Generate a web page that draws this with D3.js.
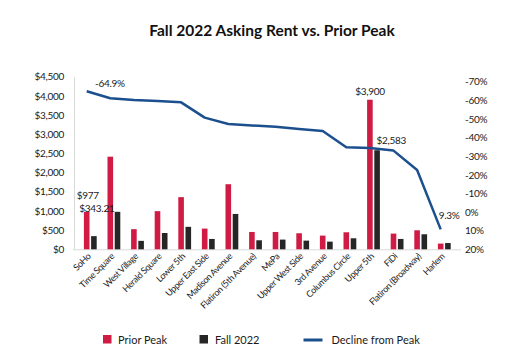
<!DOCTYPE html>
<html>
<head>
<meta charset="utf-8">
<script src="https://cdn.jsdelivr.net/npm/d3@7"></script>
<style>
  html, body { margin: 0; padding: 0; background: #fff; }
  svg { display: block; font-family: Lato, "Open Sans", sans-serif; }
</style>
</head>
<body>
<svg id="chart" width="518" height="360"></svg>
<script>
const categories = ["SoHo", "Time Square", "West Village", "Herald Square", "Lower 5th",
  "Upper East Side", "Madison Avenue", "Flatiron (5th Avenue)", "MePa", "Upper West Side",
  "3rd Avenue", "Columbus Circle", "Upper 5th", "FiDi", "Flatiron (Broadway)", "Harlem"];
const priorPeak = [977, 2415, 525, 995, 1360, 540, 1697, 452, 452, 418, 357, 444, 3900, 410, 496, 149];
const fall2022 = [343.21, 977, 220, 425, 586, 270, 922, 235, 253, 226, 200, 287, 2583, 270, 392, 163];
const declineFromPeak = [-64.9, -61.1, -60.2, -59.6, -58.9, -50.7, -47.3, -46.5, -45.8, -44.6, -43.5, -34.8, -34.4, -33.0, -22.6, 9.3];
const leftTicks = [0, 500, 1000, 1500, 2000, 2500, 3000, 3500, 4000, 4500];
const rightTicks = [20, 10, 0, -10, -20, -30, -40, -50, -60, -70];
const seriesNames = ["Prior Peak", "Fall 2022", "Decline from Peak"];
const title = "Fall 2022 Asking Rent vs. Prior Peak";

const colors = { peak: "#D01C44", fall: "#262626", line: "#1B4F8E", axis: "#D9D9D9", text: "#1a1a1a" };

const svg = d3.select("#chart");

const x = d3.scaleBand().domain(categories).range([78.5, 456.1]).paddingInner(0).paddingOuter(0);
const yL = d3.scaleLinear().domain([0, 4500]).range([249.3, 76.7]);
const yR = d3.scaleLinear().domain([20, -70]).range([249.3, 81.7]);
const barW = 5.6, gap = 7.2;
const redX = c => x(c) + x.bandwidth() / 2 - gap / 2;
const blackX = c => x(c) + x.bandwidth() / 2 + gap / 2;

// Title
svg.append("text").attr("x", 272).attr("y", 36).attr("text-anchor", "middle")
  .attr("font-size", 15.5).attr("font-weight", "bold").attr("fill", "#111")
  .text(title);

// Left axis
const gL = svg.append("g").attr("transform", "translate(74,0)")
  .call(d3.axisLeft(yL).tickValues(leftTicks).tickSize(0).tickPadding(10)
    .tickFormat(d => "$" + d3.format(",")(d)));
gL.select(".domain").attr("stroke", colors.axis);
gL.selectAll("text").attr("font-size", 10).attr("font-family", "Lato").attr("fill", colors.text)
  .attr("letter-spacing", "-0.3px");

// Right axis
const gR = svg.append("g").attr("transform", "translate(461,0)")
  .call(d3.axisRight(yR).tickValues(rightTicks).tickSize(0).tickPadding(4)
    .tickFormat(d => d + "%"));
gR.select(".domain").remove();
gR.selectAll("text").attr("font-size", 10).attr("font-family", "Lato").attr("fill", colors.text)
  .attr("letter-spacing", "-0.3px");

// Baseline
svg.append("line").attr("x1", 73).attr("x2", 461).attr("y1", yL(0) + 0.5).attr("y2", yL(0) + 0.5)
  .attr("stroke", colors.axis).attr("stroke-width", 1);

// Bars
svg.append("g").selectAll("rect").data(categories).join("rect")
  .attr("x", c => redX(c) - barW / 2).attr("width", barW)
  .attr("y", (c, i) => yL(priorPeak[i])).attr("height", (c, i) => yL(0) - yL(priorPeak[i]))
  .attr("fill", colors.peak);
svg.append("g").selectAll("rect").data(categories).join("rect")
  .attr("x", c => blackX(c) - barW / 2).attr("width", barW)
  .attr("y", (c, i) => yL(fall2022[i])).attr("height", (c, i) => yL(0) - yL(fall2022[i]))
  .attr("fill", colors.fall);

// Line
const line = d3.line().x(d => redX(d[0])).y(d => yR(d[1]));
svg.append("path").datum(categories.map((c, i) => [c, declineFromPeak[i]]))
  .attr("d", line).attr("fill", "none").attr("stroke", colors.line).attr("stroke-width", 2.5)
  .attr("stroke-linejoin", "round");

// Category labels
svg.append("g").selectAll("text").data(categories).join("text")
  .attr("transform", c => `translate(${x(c) + x.bandwidth() / 2 + 1},${257}) rotate(-45)`)
  .attr("text-anchor", "end").attr("font-size", 9).attr("letter-spacing", "-0.4px")
  .attr("fill", colors.text).text(c => c);

// Data labels
const fmt0 = d3.format("$,");
const lbl = (txt, xx, yy, anchor) => svg.append("text").attr("x", xx).attr("y", yy)
  .attr("text-anchor", anchor).attr("font-size", 10).attr("fill", colors.text)
  .attr("letter-spacing", "-0.3px").text(txt);
const i0 = 0, i12 = 12, i15 = 15;
lbl(fmt0(priorPeak[i0]), redX(categories[i0]) + 1, yL(priorPeak[i0]) - 12.5, "middle");
lbl("$" + fall2022[i0].toFixed(2), blackX(categories[i0]) + 3, yL(fall2022[i0]) - 24, "middle");
lbl(fmt0(priorPeak[i12]), redX(categories[i12]), yL(priorPeak[i12]) - 5, "middle");
lbl(fmt0(fall2022[i12]), blackX(categories[i12]) - 0.5, yL(fall2022[i12]) - 6.5, "start");
lbl(declineFromPeak[i0] + "%", 95, yR(declineFromPeak[i0]) - 4, "start");
lbl(declineFromPeak[i15] + "%", redX(categories[i15]) - 2, yR(declineFromPeak[i15]) - 10, "start");

// Legend
const lg = svg.append("g").attr("font-size", 11).attr("fill", colors.text);
lg.append("rect").attr("x", 103).attr("y", 335).attr("width", 8.5).attr("height", 8.5).attr("fill", colors.peak);
lg.append("text").attr("x", 118).attr("y", 344).text(seriesNames[0]);
lg.append("rect").attr("x", 199.5).attr("y", 335).attr("width", 8.5).attr("height", 8.5).attr("fill", colors.fall);
lg.append("text").attr("x", 215).attr("y", 344).text(seriesNames[1]);
lg.append("line").attr("x1", 303.5).attr("x2", 322.5).attr("y1", 340).attr("y2", 340)
  .attr("stroke", colors.line).attr("stroke-width", 3);
lg.append("text").attr("x", 331.5).attr("y", 344).text(seriesNames[2]);
</script>
</body>
</html>
